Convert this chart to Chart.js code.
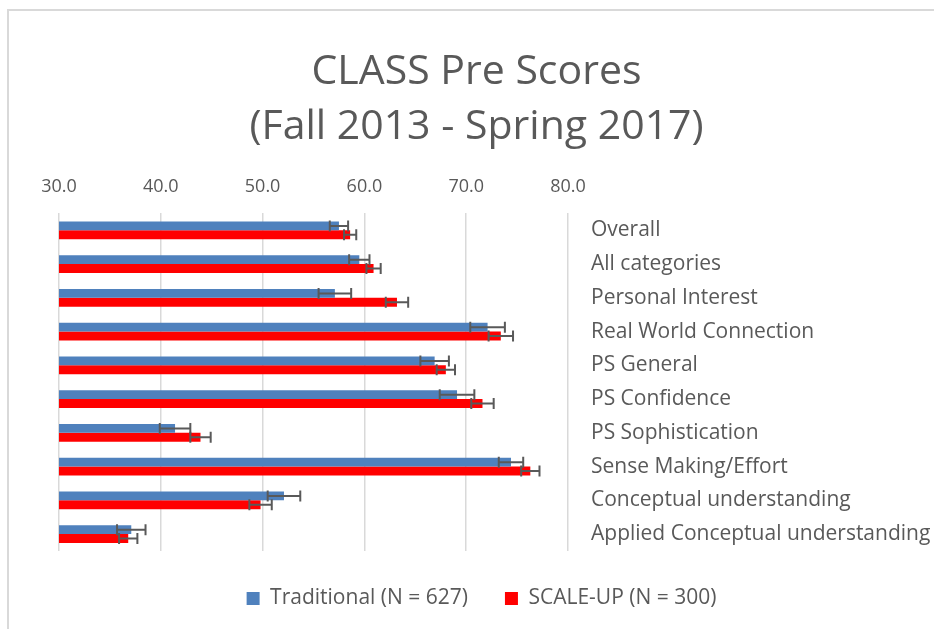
<!DOCTYPE html>
<html>
<head>
<meta charset="utf-8">
<script src="https://cdn.jsdelivr.net/npm/chart.js@4.4.1/dist/chart.umd.min.js"></script>
<style>
  html, body { margin: 0; padding: 0; background: #fff; }
  #wrap { position: relative; width: 934px; height: 629px; overflow: hidden; }
  #frame {
    position: absolute; left: 7px; top: 9px; width: 960px; height: 660px;
    border-left: 2px solid #d9d9d9; border-top: 2px solid #d9d9d9;
    box-sizing: border-box; pointer-events: none;
  }
  canvas { position: absolute; left: 0; top: 0; }
</style>
</head>
<body>
<div id="wrap">
  <canvas id="chart" width="934" height="629"></canvas>
  <div id="frame"></div>
</div>
<script>
const categories = [
  "Overall",
  "All categories",
  "Personal Interest",
  "Real World Connection",
  "PS General",
  "PS Confidence",
  "PS Sophistication",
  "Sense Making/Effort",
  "Conceptual understanding",
  "Applied Conceptual understanding"
];

const traditional = [57.5, 59.5, 57.1, 72.1, 66.9, 69.1, 41.4, 74.4, 52.1, 37.1];
const traditionalErr = [0.9, 1.0, 1.6, 1.7, 1.4, 1.7, 1.5, 1.2, 1.6, 1.4];

const scaleUp = [58.6, 60.9, 63.2, 73.4, 68.0, 71.6, 43.9, 76.3, 49.8, 36.8];
const scaleUpErr = [0.6, 0.7, 1.1, 1.2, 0.9, 1.1, 1.0, 0.9, 1.1, 0.9];

const xTicks = [30, 40, 50, 60, 70, 80];

const textColor = "#595959";
const fontFamily = "'Open Sans', sans-serif";

// Excel centred the title and legend a bit left of the plot centre
const shiftBlocks = {
  id: "shiftBlocks",
  afterLayout(chart) {
    if (chart.titleBlock) {
      chart.titleBlock.left -= 20;
      chart.titleBlock.right -= 20;
    }
    if (chart.legend) {
      chart.legend.left -= 15;
      chart.legend.right -= 15;
    }
  }
};

const errorBars = {
  id: "errorBars",
  afterDatasetsDraw(chart) {
    const ctx = chart.ctx;
    const x = chart.scales.x;
    ctx.save();
    ctx.strokeStyle = "#595959";
    ctx.lineWidth = 2;
    chart.data.datasets.forEach((ds, di) => {
      const meta = chart.getDatasetMeta(di);
      meta.data.forEach((bar, i) => {
        const v = ds.data[i];
        const e = ds.errors[i];
        const x0 = x.getPixelForValue(v - e);
        const x1 = x.getPixelForValue(v + e);
        const y = bar.y;
        const cap = 5.5;
        ctx.beginPath();
        ctx.moveTo(x0, y);
        ctx.lineTo(x1, y);
        ctx.moveTo(x0, y - cap);
        ctx.lineTo(x0, y + cap);
        ctx.moveTo(x1, y - cap);
        ctx.lineTo(x1, y + cap);
        ctx.stroke();
      });
    });
    ctx.restore();
  }
};

const whiteBg = {
  id: "whiteBg",
  beforeDraw(chart) {
    const ctx = chart.ctx;
    ctx.save();
    ctx.fillStyle = "#fff";
    ctx.fillRect(0, 0, chart.width, chart.height);
    ctx.restore();
  }
};

new Chart(document.getElementById("chart"), {
  type: "bar",
  data: {
    labels: categories,
    datasets: [
      {
        label: "Traditional (N = 627)",
        data: traditional,
        errors: traditionalErr,
        backgroundColor: "#4F81BD",
        categoryPercentage: 0.52,
        barPercentage: 1.0
      },
      {
        label: "SCALE-UP (N = 300)",
        data: scaleUp,
        errors: scaleUpErr,
        backgroundColor: "#FF0000",
        categoryPercentage: 0.52,
        barPercentage: 1.0
      }
    ]
  },
  options: {
    indexAxis: "y",
    responsive: false,
    animation: false,
    layout: {
      padding: { left: 59, right: 0, top: 10, bottom: 10 }
    },
    plugins: {
      title: {
        display: true,
        text: ["CLASS Pre Scores", "(Fall 2013 - Spring 2017)"],
        color: textColor,
        font: { family: fontFamily, size: 41, weight: "normal", lineHeight: 1.34 },
        padding: { top: 35, bottom: 5 }
      },
      legend: {
        position: "bottom",
        labels: {
          color: textColor,
          font: { family: fontFamily, size: 21 },
          boxWidth: 13,
          boxHeight: 13,
          padding: 37
        }
      },
      tooltip: { enabled: false }
    },
    scales: {
      x: {
        position: "top",
        min: 30,
        max: 80,
        afterBuildTicks(scale) {
          scale.ticks = xTicks.map((v) => ({ value: v }));
        },
        ticks: {
          color: textColor,
          font: { family: fontFamily, size: 18 },
          padding: 16,
          callback(value) {
            return Number(value).toFixed(1);
          }
        },
        grid: {
          color: "#d9d9d9",
          lineWidth: 1.5,
          drawTicks: false
        },
        border: { display: false }
      },
      y: {
        position: "right",
        afterFit(scale) {
          scale.width = 366;
        },
        ticks: {
          color: textColor,
          font: { family: fontFamily, size: 21 },
          padding: 15,
          crossAlign: "near"
        },
        grid: { display: false },
        border: { display: false }
      }
    }
  },
  plugins: [whiteBg, shiftBlocks, errorBars]
});
</script>
</body>
</html>
